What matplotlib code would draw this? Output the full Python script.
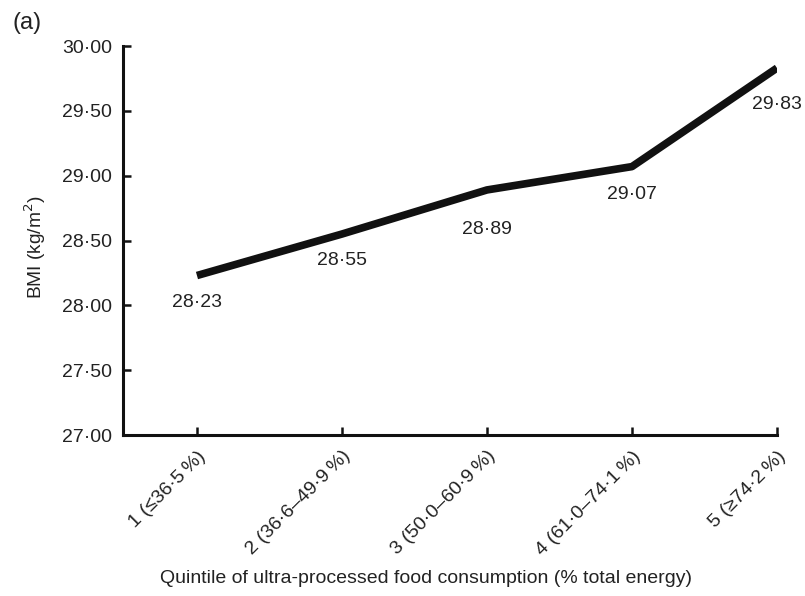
import matplotlib
matplotlib.use("Agg")
import matplotlib.pyplot as plt

quintiles = [1, 2, 3, 4, 5]
tick_labels = ["1 (\u226436\u00b75\u2009%)", "2 (36\u00b76\u201349\u00b79\u2009%)", "3 (50\u00b70\u201360\u00b79\u2009%)",
               "4 (61\u00b70\u201374\u00b71\u2009%)", "5 (\u226574\u00b72\u2009%)"]
bmi = [28.23, 28.55, 28.89, 29.07, 29.83]
label_offsets = [-27, -26, -40, -28, -36]  # pixels below point
y_ticks = [27.0, 27.5, 28.0, 28.5, 29.0, 29.5, 30.0]

plt.rcParams['font.family'] = ['Liberation Sans', 'DejaVu Sans']

fig = plt.figure(figsize=(8.05, 5.96), dpi=100)
ax = fig.add_axes([0.1528, 0.2701, 0.8124, 0.6527])

ax.plot(quintiles, bmi, color='#111111', lw=5.5, solid_capstyle='butt', solid_joinstyle='round')

for x, y, off in zip(quintiles, bmi, label_offsets):
    ax.annotate(f"{y:.2f}".replace('.', '\u00b7'), (x, y), xytext=(0, off * 0.72),
                textcoords='offset points', ha='center', va='center', fontsize=14, color='#222222')

ax.set_xlim(0.49, 5.0)
ax.set_ylim(27.0, 30.0)
ax.set_yticks(y_ticks)
ax.set_yticklabels([f"{v:.2f}".replace('.', '\u00b7') for v in y_ticks])
ax.set_xticks(quintiles)
ax.set_xticklabels(tick_labels, rotation=45, ha='right', rotation_mode='anchor')

for s in ['top', 'right']:
    ax.spines[s].set_visible(False)
for s in ['left', 'bottom']:
    ax.spines[s].set_linewidth(2.2)
    ax.spines[s].set_color('#111111')
    ax.spines[s].set_capstyle('projecting')

ax.tick_params(axis='both', direction='in', length=6, width=1.8, color='#111111',
               labelsize=14, labelcolor='#222222')
ax.tick_params(axis='y', pad=8)
ax.tick_params(axis='x', pad=9)

ax.set_ylabel("BMI (kg/m$^{2}$)", fontsize=13.8, color='#222222')
ax.yaxis.set_label_coords(-0.115, 0.483)
ax.set_xlabel("Quintile of ultra-processed food consumption (% total energy)", fontsize=14,
              color='#222222')
ax.xaxis.set_label_coords(0.463, -0.348)

fig.text(0.015, 0.962, "(a)", fontsize=17, color='#222222', va='center', ha='left')

fig.savefig("out.png", dpi=100)
